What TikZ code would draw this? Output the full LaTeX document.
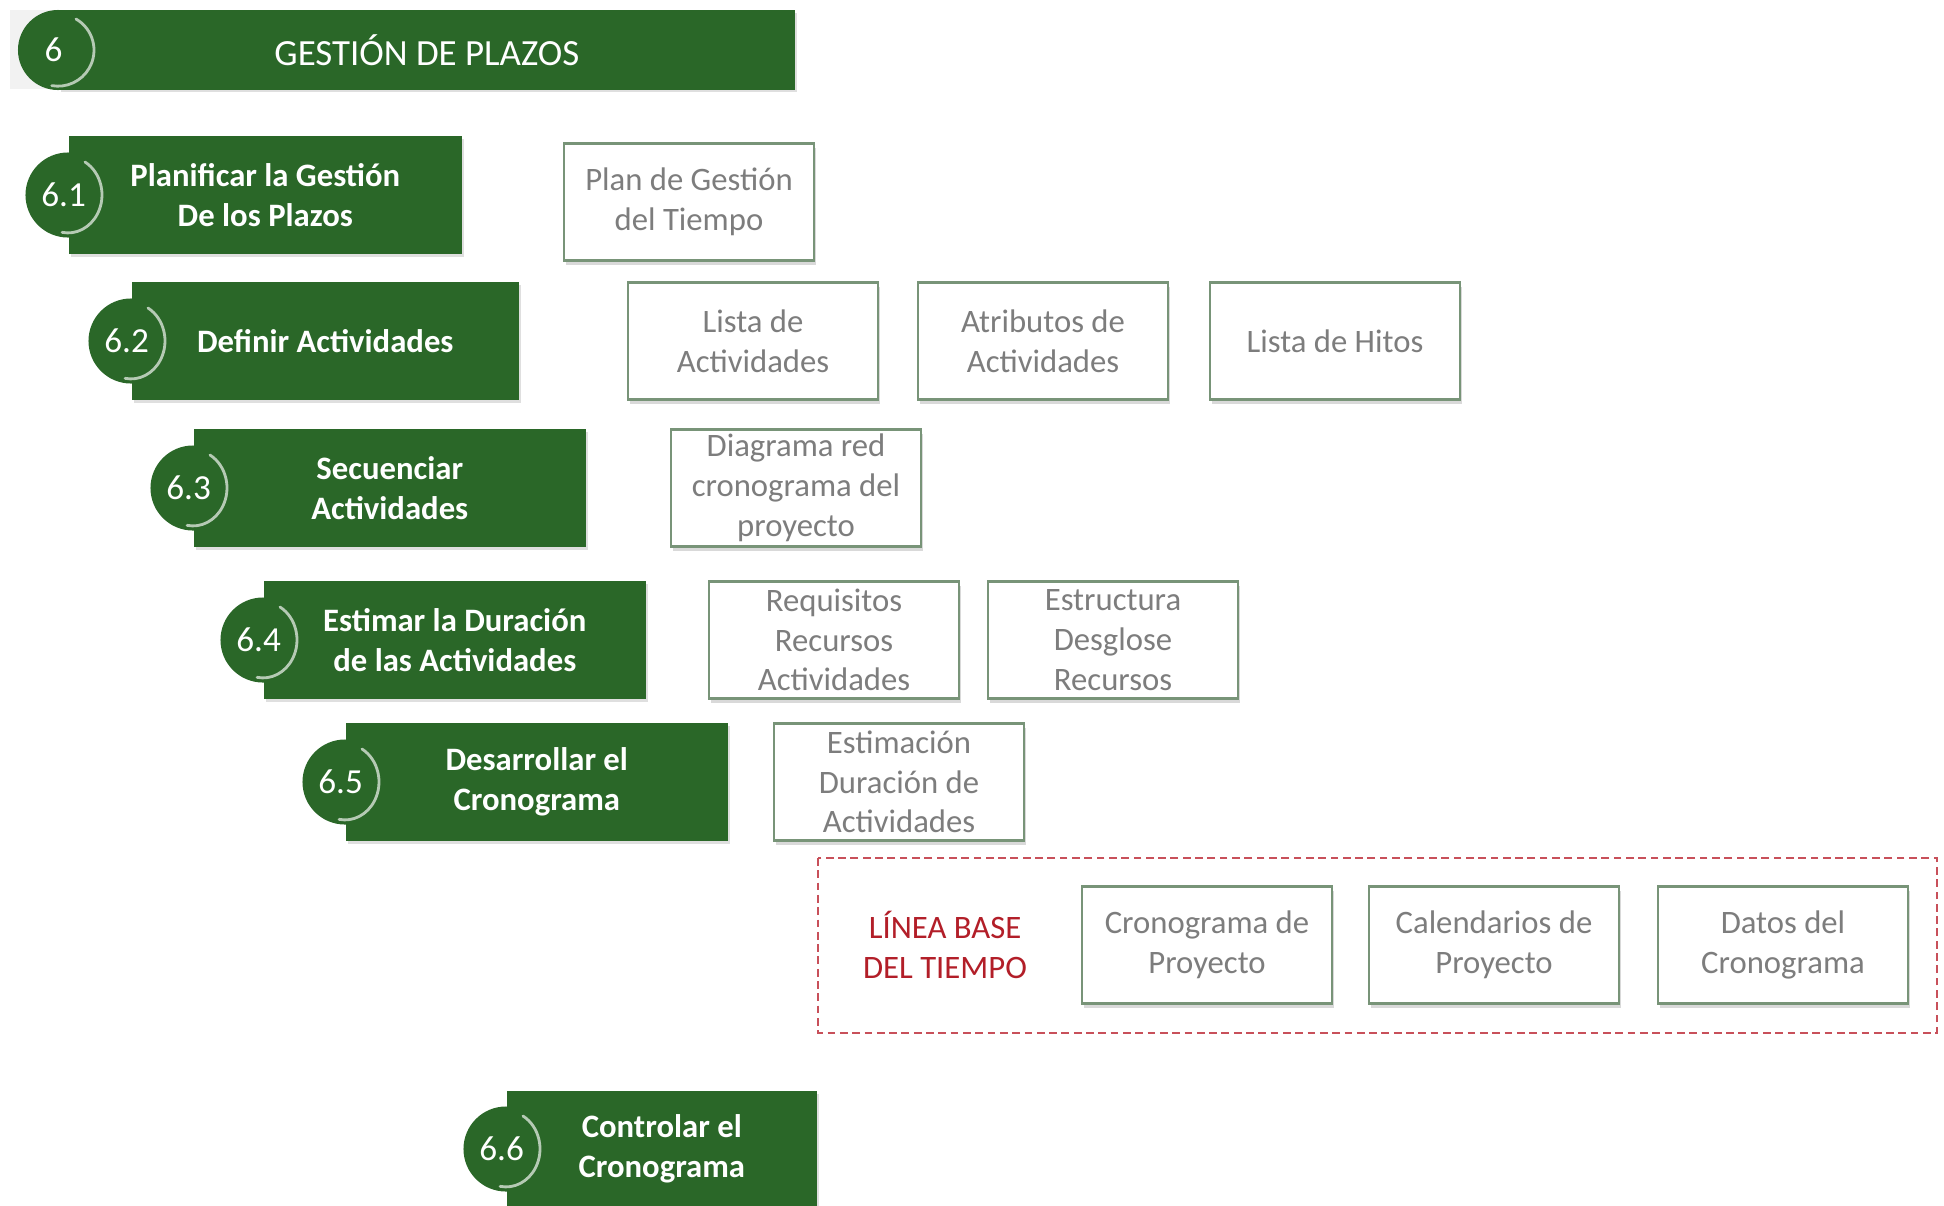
\documentclass[tikz,border=0pt]{standalone}
\usepackage{fontspec}
\setmainfont{Carlito}
\usepackage{tikz}
\usetikzlibrary{calc,shapes,shadows}
\usepackage{xcolor}

\definecolor{plazosgreen}{RGB}{42,103,40}
\definecolor{boxedge}{RGB}{120,148,120}
\definecolor{boxtext}{RGB}{125,125,125}
\definecolor{basered}{RGB}{178,30,40}
\definecolor{framered}{RGB}{200,80,90}

\begin{document}
\begin{tikzpicture}[
    x=0.01cm, y=0.01cm,
    process/.style={rectangle, fill=plazosgreen, anchor=west, minimum height=1.18cm,
        inner sep=0pt, text=white, align=center,
        font=\fontsize{9.3}{11.4}\selectfont\bfseries,
        drop shadow={shadow xshift=0.6pt, shadow yshift=-0.8pt, opacity=0.25}},
    num circle/.style={circle, fill=plazosgreen, minimum size=0.85cm, inner sep=0pt,
        text=white, font=\fontsize{10}{12}\selectfont, execute at end node=\kern2.5pt},
    swoosh/.style={white!65!plazosgreen, line width=0.8pt, line cap=round},
    output box/.style={rectangle, draw=boxedge, line width=0.6pt, fill=white,
        minimum width=2.5cm, minimum height=1.17cm, inner sep=1pt, align=center,
        text=boxtext, font=\fontsize{9.3}{11.3}\selectfont,
        drop shadow={shadow xshift=0.5pt, shadow yshift=-1.2pt, opacity=0.3}},
    baseline frame/.style={draw=framered, line width=0.6pt, dash pattern=on 2.2pt off 1.3pt}
    ]
    \useasboundingbox (0,0) rectangle (1944,-1205);
    \clip (0,0) rectangle (1944,-1205);

    % Header
    \fill[gray!10] (10,-10) rectangle (794,-89);
    \node[process, minimum width=7.36cm, minimum height=0.79cm,
        font=\fontsize{10.5}{12.6}\selectfont] (hdr) at (58,-50) {GESTIÓN DE PLAZOS};
    \node[num circle, minimum size=0.8cm] (c6) at (hdr.west) {6};
    \draw[swoosh] (c6) ++(18,31) arc[start angle=60, end angle=-100, x radius=36, y radius=36];

    % Processes
    \node[process, minimum width=3.93cm] (p61) at (68,-195) {Planificar la Gestión\\De los Plazos};
    \node[num circle] (c61) at (p61.west) {6.1};
    \draw[swoosh] (c61) ++(17,33) arc[start angle=60, end angle=-100, x radius=34, y radius=38];

    \node[process, minimum width=3.87cm] (p62) at (131,-341) {Definir Actividades};
    \node[num circle] (c62) at (p62.west) {6.2};
    \draw[swoosh] (c62) ++(17,33) arc[start angle=60, end angle=-100, x radius=34, y radius=38];

    \node[process, minimum width=3.92cm] (p63) at (193,-488) {Secuenciar\\Actividades};
    \node[num circle] (c63) at (p63.west) {6.3};
    \draw[swoosh] (c63) ++(17,33) arc[start angle=60, end angle=-100, x radius=34, y radius=38];

    \node[process, minimum width=3.82cm] (p64) at (263,-640) {Estimar la Duración\\de las Actividades};
    \node[num circle] (c64) at (p64.west) {6.4};
    \draw[swoosh] (c64) ++(17,33) arc[start angle=60, end angle=-100, x radius=34, y radius=38];

    \node[process, minimum width=3.82cm] (p65) at (345,-782) {Desarrollar el\\Cronograma};
    \node[num circle] (c65) at (p65.west) {6.5};
    \draw[swoosh] (c65) ++(17,33) arc[start angle=60, end angle=-100, x radius=34, y radius=38];

    \node[process, minimum width=3.10cm, minimum height=1.16cm] (p66) at (506,-1149) {Controlar el\\Cronograma};
    \node[num circle] (c66) at (p66.west) {6.6};
    \draw[swoosh] (c66) ++(17,33) arc[start angle=60, end angle=-100, x radius=34, y radius=38];

    % Outputs
    \node[output box] (o61) at (689,-202) {Plan de Gestión\\del Tiempo};
    \node[output box] (o62a) at (753,-341) {Lista de\\Actividades};
    \node[output box] (o62b) at (1043,-341) {Atributos de\\Actividades};
    \node[output box] (o62c) at (1335,-341) {Lista de Hitos};
    \node[output box] (o63) at (796,-488) {Diagrama red\\cronograma del\\proyecto};
    \node[output box] (o64a) at (834,-640) {Requisitos\\Recursos\\Actividades};
    \node[output box] (o64b) at (1113,-640) {Estructura\\Desglose\\Recursos};
    \node[output box] (o65) at (899,-782) {Estimación\\Duración de\\Actividades};

    % Baseline
    \draw[baseline frame] (818,-858) rectangle (1937,-1033);
    \node[align=center, text=basered, font=\fontsize{9.3}{11.3}\selectfont] (lb) at (945,-945) {LÍNEA BASE\\DEL TIEMPO};
    \node[output box] (b1) at (1207,-945) {Cronograma de\\Proyecto};
    \node[output box] (b2) at (1494,-945) {Calendarios de\\Proyecto};
    \node[output box] (b3) at (1783,-945) {Datos del\\Cronograma};
\end{tikzpicture}
\end{document}
